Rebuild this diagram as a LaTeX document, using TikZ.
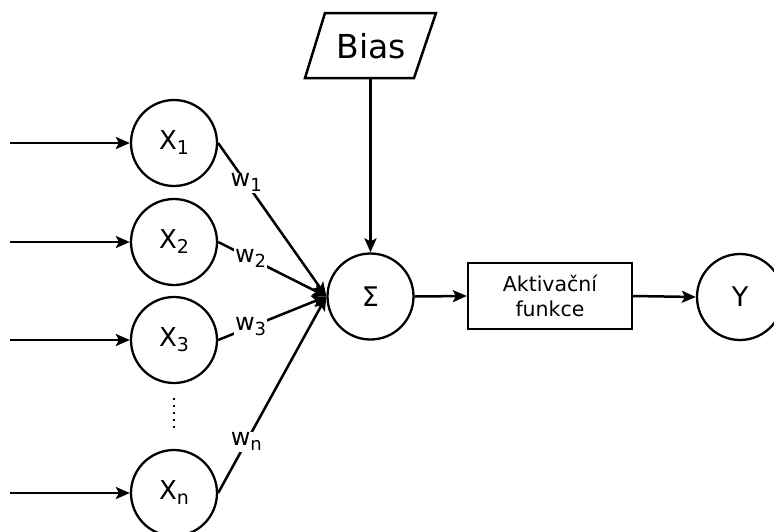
\documentclass[tikz,border=0pt]{standalone}
\usepackage{fontspec}
\setmainfont{DejaVu Sans}
\usetikzlibrary{arrows.meta}
\newcommand\xsub[2]{#1\raisebox{-5pt}{\fontsize{19}{19}\selectfont #2}}
\newcommand\wsub[2]{#1\raisebox{-5pt}{\fontsize{18}{18}\selectfont #2}}
\tikzset{
  neuron/.style={circle,draw,line width=2.3pt,minimum size=86pt,inner sep=0pt,font=\fontsize{26}{30}\selectfont},
  conn/.style={draw,line width=2.5pt,arrows={-Stealth[length=14pt,width=12pt,inset=3pt]}},
  wlabel/.style={fill=white,inner sep=1pt,font=\fontsize{24}{28}\selectfont},
  funcbox/.style={draw,line width=2.3pt,minimum width=164pt,minimum height=66pt,align=center,font=\fontsize{20.5}{25}\selectfont}
}
\begin{document}
\begin{tikzpicture}
\useasboundingbox (0pt,0pt) rectangle (774pt,-531pt);
% input neurons
\node[neuron] (x1) at (174pt,-143pt) {\xsub{X}{1}};
\node[neuron] (x2) at (174pt,-242pt) {\xsub{X}{2}};
\node[neuron] (x3) at (174pt,-340pt) {\xsub{X}{3}};
\node[neuron] (xn) at (174pt,-493pt) {\xsub{X}{n}};
% sum, activation, output
\node[neuron,font=\fontsize{27}{30}\selectfont] (sum) at (370.5pt,-296.5pt) {Σ};
\node[funcbox] (act) at (550pt,-296pt) {Aktivační\\funkce};
\node[neuron,font=\fontsize{27}{30}\selectfont] (y) at (740pt,-297pt) {Y};
% bias parallelogram
\draw[line width=2.5pt] (325pt,-13pt) -- (436pt,-13pt) -- (414pt,-78pt) -- (305pt,-78pt) -- cycle;
\node[font=\fontsize{33}{38}\selectfont] (bias) at (371pt,-46pt) {Bias};
\coordinate (biasb) at (370.5pt,-78pt);
% input arrows
\coordinate (i1) at (10pt,-143pt);
\coordinate (i2) at (10pt,-242pt);
\coordinate (i3) at (10pt,-340pt);
\coordinate (in) at (10pt,-493pt);
\path[conn] (i1) -- (x1.west);
\path[conn] (i2) -- (x2.west);
\path[conn] (i3) -- (x3.west);
\path[conn] (in) -- (xn.west);
% weighted connections
\path[conn] (x1.east) -- node[wlabel,pos=0.26] {\wsub{w}{1}} (sum.west);
\path[conn] (x2.east) -- node[wlabel,pos=0.3] {\wsub{w}{2}} (sum.west);
\path[conn] (x3.east) -- node[wlabel,pos=0.3] {\wsub{w}{3}} (sum.west);
\path[conn] (xn.east) -- node[wlabel,pos=0.26] {\wsub{w}{n}} (sum.west);
% bias to sum
\path[conn] (biasb) -- (sum.north);
% sum to activation to output
\path[conn] (sum.east) -- (act.west);
\path[conn] (act.east) -- (y.west);
% vertical dots
\coordinate (d1) at (174pt,-398pt);
\coordinate (d2) at (174pt,-428pt);
\draw[line width=2pt,dash pattern=on 2pt off 5pt] (d1) -- (d2);
\end{tikzpicture}
\end{document}
